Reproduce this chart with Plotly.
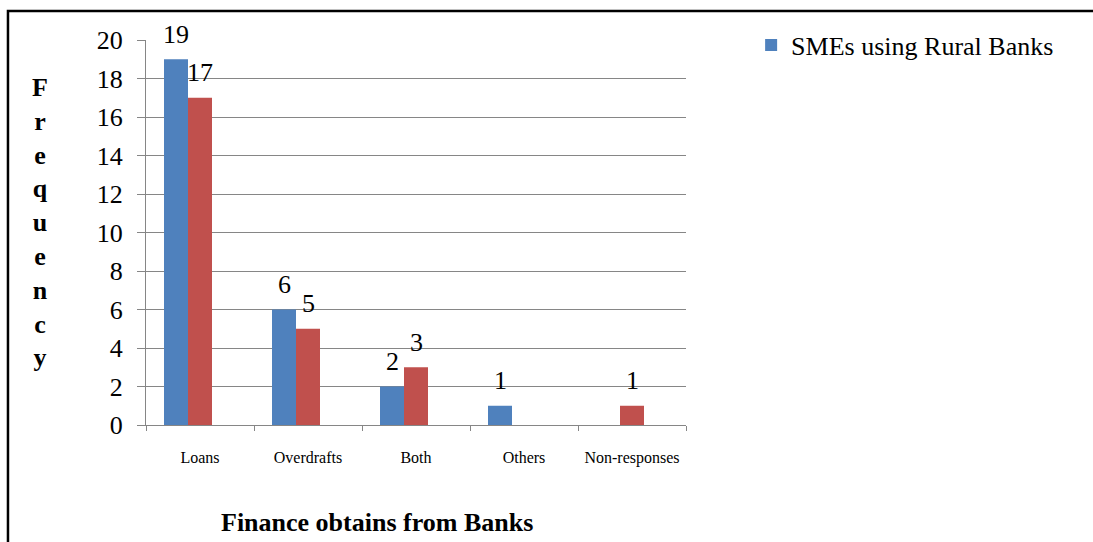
import plotly.graph_objects as go

# Finance types obtained from banks and their frequencies
categories = ["Loans", "Overdrafts", "Both", "Others", "Non-responses"]
rural_banks = [19, 6, 2, 1, None]
other_banks = [17, 5, 3, None, 1]

series_names = ["SMEs using Rural Banks", "SMEs using other Banks"]
series_colors = ["#4F81BD", "#C0504D"]

FONT = "Liberation Serif"

# each group reserves three slots of equal width; the two series use the first two
slot = 0.2222
offsets = [-0.3333, -0.1111]
cat_px = 108.0  # pixel width of one category band

fig = go.Figure()
for vals, name, color, off, show in zip(
    [rural_banks, other_banks], series_names, series_colors, offsets, [True, False]
):
    fig.add_trace(go.Bar(
        x=categories, y=vals, name=name,
        marker=dict(color=color, line=dict(width=0)),
        width=slot, offset=off, showlegend=show,
    ))
    # value labels above each bar
    for c, v in zip(categories, vals):
        if v is None:
            continue
        fig.add_annotation(
            x=c, y=v, text=str(v), showarrow=False,
            xshift=(off + slot / 2) * cat_px, yshift=25,
            yanchor="middle", xanchor="center",
            font=dict(family=FONT, size=26, color="black"),
        )

# y axis title written as a column of letters
fig.add_annotation(
    x=-0.1963, y=0.527, xref="paper", yref="paper",
    text="<br>".join(f"<b>{ch}</b>" for ch in "Frequency"),
    showarrow=False, xanchor="center", yanchor="middle", align="center",
    font=dict(family=FONT, size=26, color="black"),
)

# x axis title
fig.add_annotation(
    x=0.4278, y=-0.252, xref="paper", yref="paper",
    text="<b>Finance obtains from Banks</b>", showarrow=False,
    xanchor="center", yanchor="middle",
    font=dict(family=FONT, size=26, color="black"),
)

# outer chart frame
fig.add_shape(
    type="rect", xref="paper", yref="paper",
    x0=-0.2556, x1=2.2, y0=-0.5, y1=1.0753,
    line=dict(color="black", width=2.5), fillcolor="rgba(0,0,0,0)", layer="above",
)

fig.update_layout(
    width=1093, height=542,
    margin=dict(l=146, r=407, t=40, b=117),
    paper_bgcolor="white", plot_bgcolor="white",
    barmode="overlay",
    font=dict(family=FONT, color="black"),
    showlegend=True,
    legend=dict(
        x=1.1206, y=0.987, xanchor="left", yanchor="middle",
        font=dict(family=FONT, size=26, color="black"),
        bgcolor="rgba(0,0,0,0)", borderwidth=0,
    ),
    xaxis=dict(
        type="category", range=[-0.5, 4.5],
        showline=True, linecolor="#868686", linewidth=1,
        showgrid=False, ticks="outside", tickson="boundaries",
        ticklen=5, tickcolor="#868686", tickwidth=1,
        tickfont=dict(family=FONT, size=16, color="black"),
        ticklabelstandoff=18,
    ),
    yaxis=dict(
        range=[0, 20], dtick=2, tick0=0,
        showline=True, linecolor="#868686", linewidth=1,
        showgrid=True, gridcolor="#868686", gridwidth=1,
        ticks="outside", ticklen=8, tickcolor="#868686", tickwidth=1,
        tickfont=dict(family=FONT, size=26, color="black"),
        ticklabelstandoff=9, zeroline=False,
    ),
)

fig.write_html("out.html")
